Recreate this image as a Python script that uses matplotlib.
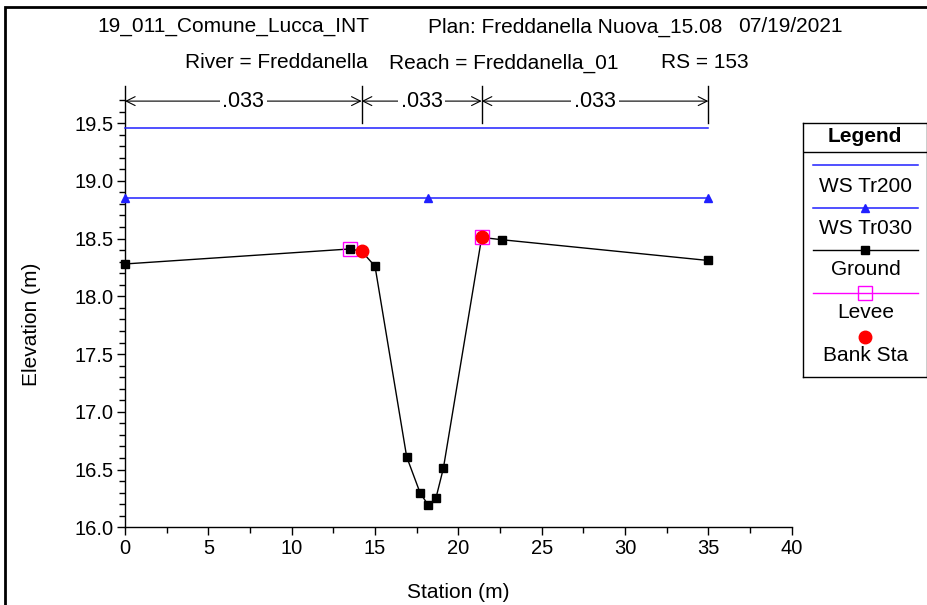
import matplotlib
matplotlib.use("Agg")
import matplotlib.pyplot as plt
from matplotlib.patches import Rectangle

plt.rcParams['font.family'] = ['Liberation Sans', 'DejaVu Sans']

# ---- data ----
ground_x = [0.0, 13.5, 14.2, 15.0, 16.9, 17.7, 18.2, 18.65, 19.1, 21.4, 22.6, 35.0]
ground_y = [18.28, 18.41, 18.39, 18.26, 16.61, 16.30, 16.19, 16.25, 16.51, 18.51, 18.49, 18.31]
ws200_x = [0.0, 35.0]
ws200_y = [19.46, 19.46]
ws030_x = [0.0, 18.2, 35.0]
ws030_y = [18.85, 18.85, 18.85]
levee_x = [13.5, 21.4]
levee_y = [18.41, 18.51]
bank_x = [14.2, 21.4]
bank_y = [18.39, 18.51]
n_breaks = [0.0, 14.2, 21.4, 35.0]
n_values = [".033", ".033", ".033"]
xticks = [0, 5, 10, 15, 20, 25, 30, 35, 40]
yticks = [16.0, 16.5, 17.0, 17.5, 18.0, 18.5, 19.0, 19.5]
legend_labels = ["WS Tr200", "WS Tr030", "Ground", "Levee", "Bank Sta"]

FS = 15
W, H = 928, 605
fig = plt.figure(figsize=(W / 100, H / 100), dpi=100)

def fx(px):
    return px / W

def fy(py):
    return 1 - py / H

# outer frame
fig.patches.append(Rectangle((fx(5), fy(700)), fx(1000), fy(7) - fy(700),
                             transform=fig.transFigure, fill=False,
                             edgecolor='black', linewidth=2, zorder=0))

ax_left, ax_right, ax_bottom, ax_top = 125, 791.7, 527.3, 86
ax = fig.add_axes([fx(ax_left), fy(ax_bottom), fx(ax_right - ax_left), fy(ax_top) - fy(ax_bottom)])
ymin = 16.0
ymax = 16.0 + (ax_bottom - ax_top) / 115.5
ax.set_xlim(0, 40)
ax.set_ylim(ymin, ymax)
ax.patch.set_alpha(0)
for s in ['top', 'right']:
    ax.spines[s].set_visible(False)
for s in ['left', 'bottom']:
    ax.spines[s].set_linewidth(1.0)

ax.set_xticks(xticks)
ax.set_xticks([x + 2.5 for x in xticks[:-1]], minor=True)
ax.set_yticks(yticks)
ax.set_yticks([16.0 + 0.1 * i for i in range(38)], minor=True)
ax.set_yticklabels([f"{v:.1f}" for v in yticks])
ax.tick_params(axis='both', which='major', length=6, width=1, labelsize=14.5, direction='out', pad=2.5)
ax.tick_params(axis='both', which='minor', length=4, width=1, direction='out')

# lines
ax.plot(ws200_x, ws200_y, color='#2020ff', lw=1.1, zorder=3, clip_on=False)
ax.plot(ws030_x, ws030_y, color='#2020ff', lw=1.1, marker='^', markersize=6, zorder=3, clip_on=False)
ax.plot(ground_x, ground_y, color='black', lw=1.0, marker='s', markersize=5.5, zorder=4, clip_on=False)
ax.plot(levee_x, levee_y, linestyle='none', marker='s', markersize=10,
        markerfacecolor='none', markeredgecolor='#ff00ff', markeredgewidth=1.0, zorder=5, clip_on=False)
ax.plot(bank_x, bank_y, linestyle='none', marker='o', markersize=9, color='red', zorder=6, clip_on=False)

# Manning's n dimension lines
dim_y = 19.69
for xb in n_breaks[1:]:
    ax.plot([xb, xb], [19.50, ymax], color='black', lw=1.0, clip_on=False, zorder=3)
for i, nv in enumerate(n_values):
    x0, x1 = n_breaks[i], n_breaks[i + 1]
    ax.annotate('', xy=(x0, dim_y), xytext=(x1, dim_y),
                arrowprops=dict(arrowstyle='<->', color='black', lw=0.8,
                                shrinkA=0, shrinkB=0, mutation_scale=16),
                annotation_clip=False, zorder=3)
    ax.text((x0 + x1) / 2, dim_y, nv, ha='center', va='center', fontsize=15.5,
            bbox=dict(facecolor='white', edgecolor='none', pad=2), zorder=4)

# axis labels
fig.text(fx(458), fy(593), "Station (m)", ha='center', va='center', fontsize=FS)
fig.text(fx(32), fy(324), "Elevation (m)", ha='center', va='center', fontsize=FS, rotation=90)

# titles
fig.text(fx(97), fy(27), "19_011_Comune_Lucca_INT", ha='left', va='center', fontsize=FS)
fig.text(fx(428), fy(27), "Plan: Freddanella Nuova_15.08", ha='left', va='center', fontsize=FS)
fig.text(fx(843), fy(27), "07/19/2021", ha='right', va='center', fontsize=FS)
fig.text(fx(185), fy(63), "River = Freddanella", ha='left', va='center', fontsize=FS)
fig.text(fx(389), fy(63), "Reach = Freddanella_01", ha='left', va='center', fontsize=FS)
fig.text(fx(749), fy(63), "RS = 153", ha='right', va='center', fontsize=FS)

# legend box (pixel coordinates)
lx0, lx1, ly0, ly1 = 802.7, 927.0, 122.7, 377.3
lax = fig.add_axes([fx(lx0), fy(ly1), fx(lx1 - lx0), fy(ly0) - fy(ly1)])
lax.set_xlim(lx0, lx1)
lax.set_ylim(ly1, ly0)
lax.set_xticks([])
lax.set_yticks([])
for s in lax.spines.values():
    s.set_linewidth(1.0)
lax.plot([lx0, lx1], [152.3, 152.3], color='black', lw=1.0)
lax.text((lx0 + lx1) / 2, 136.5, "Legend", ha='center', va='center', fontsize=FS, fontweight='bold')
seg = [812.7, 918.3]
mid = (seg[0] + seg[1]) / 2
lax.plot(seg, [165, 165], color='#2020ff', lw=1.1)
lax.text(mid, 186, legend_labels[0], ha='center', va='center', fontsize=FS)
lax.plot(seg, [207.7, 207.7], color='#2020ff', lw=1.1)
lax.plot([mid], [207.7], marker='^', color='#2020ff', markersize=6)
lax.text(mid, 228.5, legend_labels[1], ha='center', va='center', fontsize=FS)
lax.plot(seg, [250.3, 250.3], color='black', lw=1.0)
lax.plot([mid], [250.3], marker='s', color='black', markersize=5.5)
lax.text(mid, 269.5, legend_labels[2], ha='center', va='center', fontsize=FS)
lax.plot(seg, [292.7, 292.7], color='#ff00ff', lw=1.0)
lax.plot([mid], [292.7], marker='s', markersize=10, markerfacecolor='none',
         markeredgecolor='#ff00ff', markeredgewidth=1.0)
lax.text(mid, 312.5, legend_labels[3], ha='center', va='center', fontsize=FS)
lax.plot([mid], [336.7], marker='o', color='red', markersize=9)
lax.text(mid, 355.5, legend_labels[4], ha='center', va='center', fontsize=FS)

fig.savefig("out.png", dpi=100)
